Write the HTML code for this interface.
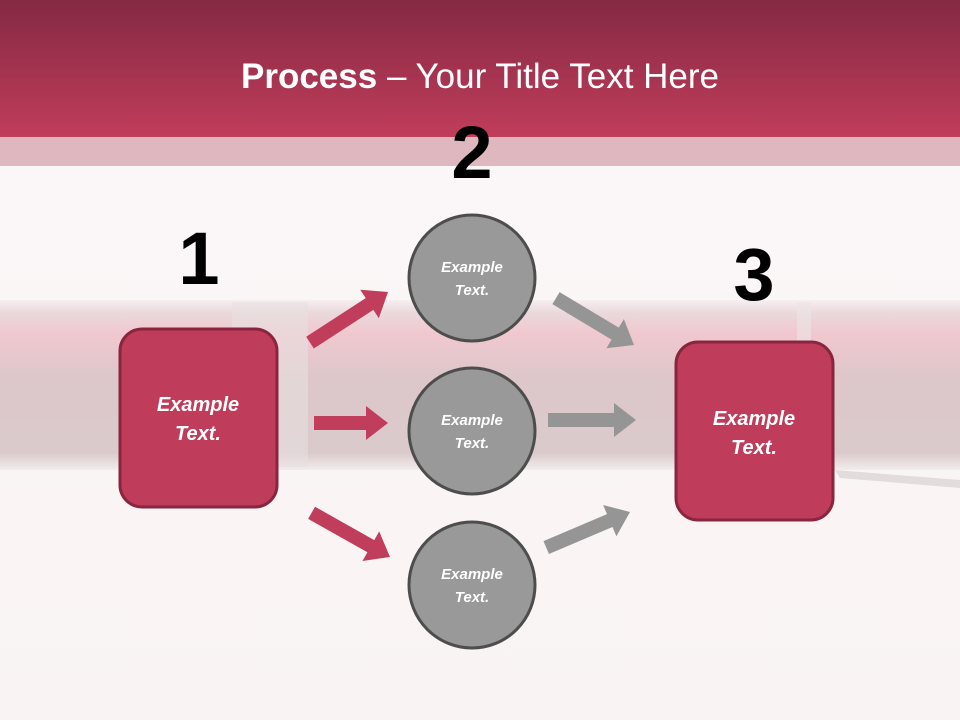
<!DOCTYPE html>
<html><head><meta charset="utf-8"><style>
html,body{margin:0;padding:0;width:960px;height:720px;overflow:hidden;background:#fcf7f8}
svg{display:block}
text{font-family:"Liberation Sans",sans-serif}
</style></head><body>
<svg width="960" height="720" viewBox="0 0 960 720" xmlns="http://www.w3.org/2000/svg">
<defs>
<linearGradient id="hd" x1="0" y1="0" x2="0" y2="1">
<stop offset="0" stop-color="#852943"/><stop offset="1" stop-color="#c03d5b"/></linearGradient>
<linearGradient id="pen" x1="0" y1="0" x2="0" y2="1">
<stop offset="0" stop-color="#f6eef0"/><stop offset="0.08" stop-color="#ead8db"/><stop offset="0.2" stop-color="#f0c8cf"/><stop offset="0.45" stop-color="#ddc7ca"/><stop offset="0.9" stop-color="#dacacc"/><stop offset="1" stop-color="#f3eded"/></linearGradient>
<linearGradient id="bg" x1="0" y1="0" x2="0" y2="1">
<stop offset="0" stop-color="#fcf8f9"/><stop offset="1" stop-color="#f9f3f3"/></linearGradient>
</defs>
<rect width="960" height="720" fill="url(#bg)"/>
<rect x="0" y="0" width="960" height="137" fill="url(#hd)"/>
<rect x="0" y="137" width="960" height="29" fill="#dfb8bf"/>
<rect x="0" y="300" width="960" height="170" fill="url(#pen)"/>
<rect x="232" y="302" width="76" height="165" fill="#e8dfe0" opacity="0.6"/>
<rect x="797" y="302" width="14" height="165" fill="#ece4e5" opacity="0.6"/>
<path d="M835 470 L960 480 L960 488 L840 478 Z" fill="#d8d1d2" opacity="0.7"/>
<text x="480" y="88" text-anchor="middle" fill="#fff" font-size="35"><tspan font-weight="bold">Process</tspan> – Your Title Text Here</text>
<text x="472" y="178" text-anchor="middle" font-size="74" font-weight="bold" fill="#000">2</text>
<text x="199" y="284" text-anchor="middle" font-size="74" font-weight="bold" fill="#000">1</text>
<text x="754" y="300" text-anchor="middle" font-size="74" font-weight="bold" fill="#000">3</text>
<g fill="#c03d5b">
<polygon transform="translate(388,292) rotate(-33)" points="0,0 -22,-17 -22,-7 -93,-7 -93,7 -22,7 -22,17"/>
<polygon transform="translate(388,423)" points="0,0 -22,-17 -22,-7 -74,-7 -74,7 -22,7 -22,17"/>
<polygon transform="translate(390,557) rotate(29.4)" points="0,0 -22,-17 -22,-7 -90,-7 -90,7 -22,7 -22,17"/>
</g>
<g fill="#959595">
<polygon transform="translate(634,345) rotate(31)" points="0,0 -22,-17 -22,-7 -91,-7 -91,7 -22,7 -22,17"/>
<polygon transform="translate(636,420)" points="0,0 -22,-17 -22,-7 -88,-7 -88,7 -22,7 -22,17"/>
<polygon transform="translate(630,512) rotate(-23)" points="0,0 -22,-17 -22,-7 -91,-7 -91,7 -22,7 -22,17"/>
</g>
<rect x="120" y="329" width="157" height="178" rx="22" fill="#bf3c5a" stroke="#8a2540" stroke-width="3"/>
<rect x="676" y="342" width="157" height="178" rx="22" fill="#bf3c5a" stroke="#8a2540" stroke-width="3"/>
<g fill="#999" stroke="#4d4d4d" stroke-width="3">
<circle cx="472" cy="278" r="63"/><circle cx="472" cy="431" r="63"/><circle cx="472" cy="585" r="63"/>
</g>
<g fill="#fff" font-style="italic" font-weight="bold" text-anchor="middle">
<text x="198" y="411" font-size="20">Example</text><text x="198" y="440" font-size="20">Text.</text>
<text x="754" y="425" font-size="20">Example</text><text x="754" y="454" font-size="20">Text.</text>
<text x="472" y="272" font-size="15">Example</text><text x="472" y="295" font-size="15">Text.</text>
<text x="472" y="425" font-size="15">Example</text><text x="472" y="448" font-size="15">Text.</text>
<text x="472" y="579" font-size="15">Example</text><text x="472" y="602" font-size="15">Text.</text>
</g>
</svg>
</body></html>
